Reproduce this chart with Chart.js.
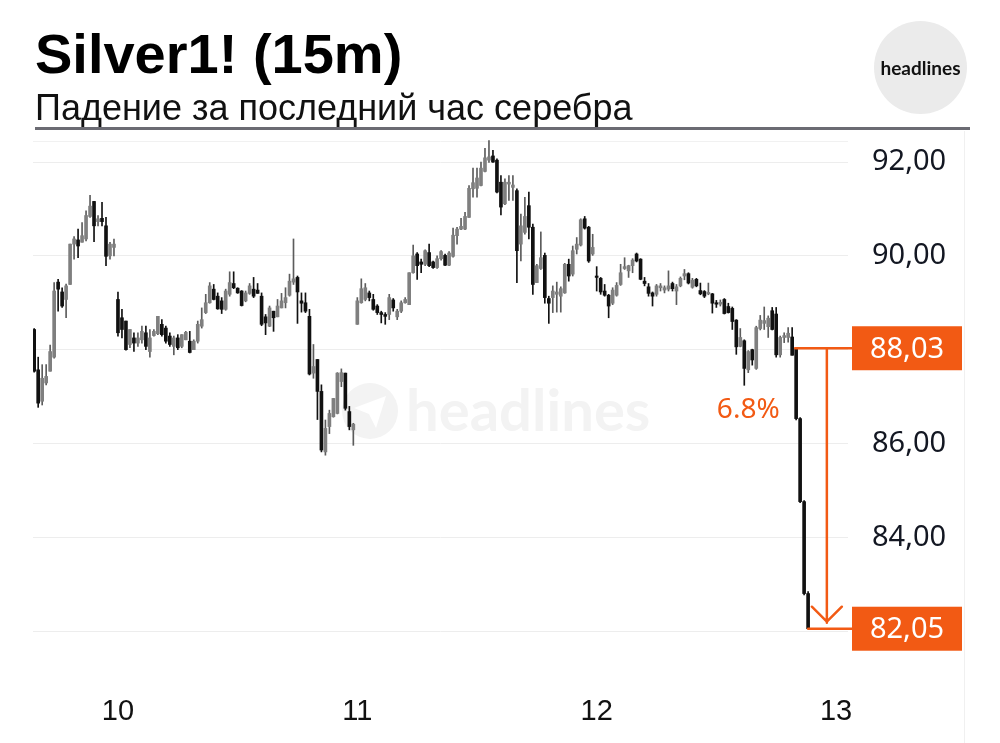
<!DOCTYPE html>
<html>
<head>
<meta charset="utf-8">
<script src="https://cdn.jsdelivr.net/npm/chart.js@4.4.1/dist/chart.umd.min.js"></script>
<style>
  html, body { margin: 0; padding: 0; background: #fff; }
  #wrap { position: relative; width: 1000px; height: 743px; overflow: hidden; }
  #chart { position: absolute; left: 0; top: 0; }
  #title { position: absolute; left: 35px; top: 26px; font: bold 56px/56px 'Liberation Sans', Arial, sans-serif; color: #000; white-space: nowrap; }
  #subtitle { position: absolute; left: 35px; top: 90px; font: 36px/36px 'Liberation Sans', Arial, sans-serif; color: #111; white-space: nowrap; }
  #rule { position: absolute; left: 35px; top: 127px; width: 935px; height: 3px; background: #6b6b73; }
  #logo { position: absolute; left: 874px; top: 21px; width: 93px; height: 93px; border-radius: 50%; background: #ebebeb;
          font: bold 19px/93px Lato, 'Open Sans', sans-serif; color: #111; text-align: center; }
</style>
</head>
<body>
<div id="wrap">
  <canvas id="chart" width="1000" height="743"></canvas>
  <div id="title">Silver1! (15m)</div>
  <div id="subtitle">Падение за последний час серебра</div>
  <div id="rule"></div>
  <div id="logo">headlines</div>
</div>
<script>
// ---------------- DATA (15m candles, index = candle number) ----------------
const opens = [
  88.43,87.57,86.90,87.29,87.54,87.84,89.44,89.23,89.07,89.39,
  90.25,90.34,90.29,90.36,90.84,91.16,90.73,90.80,90.64,90.00,
  90.18,89.07,88.68,88.61,88.11,88.25,88.14,88.21,88.36,87.96,
  88.30,88.34,88.54,88.46,88.29,88.07,88.25,88.07,88.21,88.18,
  88.00,88.18,88.50,88.79,89.00,89.29,89.14,89.04,88.86,89.18,
  89.41,89.31,89.25,89.04,89.20,89.29,89.27,89.14,88.70,88.50,
  88.82,88.70,88.89,89.00,89.16,89.44,89.54,89.04,89.00,88.71,
  87.50,87.79,87.11,85.82,86.36,86.57,86.64,87.32,87.50,86.68,
  86.29,88.54,89.00,89.07,89.21,89.07,88.93,88.79,88.75,88.75,
  89.06,88.70,88.82,89.00,88.96,89.64,90.04,89.87,89.82,90.07,
  89.87,89.75,89.94,90.01,89.80,89.99,90.43,90.57,90.57,90.82,
  91.43,91.44,91.50,91.80,92.04,92.13,92.04,91.57,91.11,91.53,
  91.46,91.39,90.25,90.50,91.07,90.61,89.43,89.73,90.01,89.09,
  89.11,89.18,89.14,89.21,89.82,89.61,90.14,90.23,90.79,90.61,
  90.04,89.57,89.52,89.25,89.16,88.99,89.16,89.39,89.73,89.68,
  89.79,90.04,89.93,89.46,89.34,89.21,89.18,89.32,89.27,89.29,
  89.41,89.25,89.36,89.57,89.62,89.33,89.50,89.26,89.24,89.19,
  89.19,89.00,88.97,89.07,88.92,88.88,88.63,88.07,88.19,87.57,
  88.00,87.60,88.45,88.56,88.49,88.83,88.76,87.89,88.26,88.26,
  88.27,88.03,86.53,84.76,82.80
];
const highs = [
  88.45,87.84,87.68,87.68,88.10,89.43,89.50,89.32,89.40,90.25,
  90.41,90.57,90.71,90.96,91.29,91.16,90.86,91.14,90.82,90.29,
  90.36,89.23,88.86,88.61,88.43,88.36,88.36,88.50,88.50,88.43,
  88.43,88.71,88.64,88.50,88.36,88.29,88.32,88.32,88.39,88.39,
  88.21,88.61,88.89,89.18,89.43,89.39,89.21,89.11,89.29,89.66,
  89.66,89.32,89.26,89.25,89.41,89.54,89.41,89.21,88.75,88.93,
  88.82,89.07,89.20,89.32,89.61,90.36,89.57,89.21,89.21,88.86,
  88.11,87.79,87.25,86.50,86.71,86.96,87.51,87.59,87.50,86.79,
  86.43,89.11,89.51,89.41,89.25,89.18,88.96,88.82,88.79,89.18,
  89.09,88.86,89.04,89.11,89.64,90.23,90.07,89.93,90.13,90.25,
  89.89,90.00,90.11,90.04,90.09,90.59,90.61,90.80,90.93,91.50,
  91.87,91.87,92.00,92.29,92.46,92.25,92.07,91.71,91.64,91.71,
  91.71,91.43,90.89,91.25,91.36,90.68,89.82,90.51,90.06,89.14,
  89.36,89.44,89.34,89.84,89.93,90.21,90.39,90.79,90.84,90.63,
  90.46,89.77,89.54,89.39,89.18,89.32,89.43,89.82,89.96,89.80,
  89.94,90.06,89.94,89.54,89.41,89.23,89.39,89.41,89.36,89.68,
  89.44,89.39,89.55,89.71,89.64,89.52,89.52,89.42,89.26,89.42,
  89.20,89.05,89.06,89.09,88.99,88.91,88.64,88.45,88.21,87.98,
  88.01,88.50,88.73,88.91,88.72,88.90,88.90,88.29,88.36,88.47,
  88.47,88.03,86.55,84.78,82.84
];
const lows = [
  87.52,86.77,86.82,87.25,87.54,87.82,88.82,88.90,88.68,89.39,
  89.93,89.96,90.29,90.32,90.82,90.30,90.64,90.64,89.79,89.93,
  90.00,88.29,88.25,87.99,88.04,87.96,88.07,88.14,88.00,87.84,
  88.29,88.32,88.29,88.14,88.07,87.89,88.00,88.04,88.21,87.93,
  88.00,88.14,88.46,88.77,88.99,89.06,88.86,88.77,88.84,89.14,
  89.30,89.20,88.93,89.02,89.18,89.11,89.20,88.51,88.32,88.49,
  88.39,88.70,88.89,88.89,89.14,89.39,88.56,88.80,88.79,87.46,
  87.39,86.51,85.82,85.75,86.21,86.56,86.63,87.21,86.71,86.29,
  85.96,88.54,88.99,89.04,89.04,88.84,88.75,88.57,88.54,88.64,
  88.82,88.64,88.79,88.99,88.96,89.63,89.50,89.64,89.79,89.77,
  89.73,89.73,89.91,89.79,89.79,89.97,90.25,90.56,90.56,90.82,
  91.25,91.25,91.49,91.79,91.99,91.99,91.34,90.87,91.09,91.18,
  91.18,89.43,89.89,90.46,90.36,89.18,89.43,89.71,88.99,88.56,
  88.79,88.80,88.80,89.20,89.46,89.57,90.04,90.21,90.57,89.86,
  90.01,89.25,89.18,89.14,88.68,88.96,89.14,89.37,89.71,89.54,
  89.64,89.87,89.49,89.36,89.14,88.93,89.14,89.25,89.21,89.25,
  89.25,88.96,89.34,89.49,89.40,89.31,89.34,89.17,89.11,89.17,
  88.78,88.90,88.93,88.76,88.78,88.43,87.90,88.06,87.24,87.51,
  87.67,87.58,88.42,88.43,88.26,88.42,87.84,87.84,88.15,88.16,
  87.88,86.50,84.74,82.77,82.05
];
const closes = [
  87.54,86.86,87.39,87.43,87.96,89.25,89.29,88.93,89.36,90.25,
  90.36,90.21,90.43,90.86,91.06,90.64,90.79,90.73,89.99,90.25,
  90.25,88.36,88.43,88.00,88.43,88.14,88.25,88.39,88.07,88.25,
  88.39,88.71,88.32,88.18,88.11,88.25,88.04,88.32,88.37,87.94,
  88.18,88.54,88.64,89.00,89.36,89.07,88.87,88.86,89.25,89.43,
  89.32,89.21,88.94,89.21,89.36,89.14,89.20,88.54,88.57,88.89,
  88.68,88.93,89.04,89.11,89.46,89.51,89.23,88.99,88.82,87.48,
  87.64,87.11,85.86,86.32,86.64,86.96,87.50,87.51,86.75,86.36,
  86.41,89.04,89.30,89.32,89.11,88.86,88.79,88.75,88.71,89.11,
  88.89,88.82,89.00,89.07,89.64,90.00,89.79,89.82,90.11,89.79,
  89.75,89.94,90.09,89.80,90.06,90.44,90.57,90.63,90.84,91.44,
  91.56,91.66,91.87,92.09,92.11,92.00,91.36,91.04,91.57,91.57,
  91.51,90.11,90.64,90.84,90.61,89.39,89.79,89.96,89.11,88.99,
  89.25,89.23,89.30,89.82,89.57,90.11,90.25,90.77,90.59,89.89,
  90.18,89.54,89.23,89.16,88.93,89.27,89.37,89.64,89.77,89.79,
  89.91,89.89,89.50,89.41,89.20,89.14,89.36,89.36,89.32,89.36,
  89.30,89.34,89.52,89.62,89.42,89.48,89.36,89.19,89.14,89.22,
  88.99,88.97,89.01,88.77,88.79,88.60,88.06,88.26,87.60,87.96,
  87.78,88.47,88.63,88.62,88.67,88.43,87.89,88.26,88.30,88.35,
  87.88,86.53,84.76,82.80,82.05
];

// day labels on the time axis and the candle where each day starts
const dayLabels = ['10', '11', '12', '13'];
const dayIndex = [21, 81, 141, 201];

// price axis
const priceTicks = [82, 84, 86, 88, 90, 92];
const hiddenTicks = [82, 88]; // covered by the orange price tags

// the drop annotation
const dropFrom = 88.03;
const dropTo = 82.05;
const dropText = '6.8%';
const dropStartCandle = 191;
const dropEndCandle = 194;

// ---------------- STYLE ----------------
const ORANGE = '#f25a14';
const UP_BODY = '#7f7f7f';
const UP_WICK = '#5c5c5c';
const DOWN = '#111111';

const idx = opens.map((_, i) => i);
const isUp = idx.map(i => closes[i] >= opens[i]);

function fmt(v) {
  return v.toFixed(2).replace('.', ',');
}

const decor = {
  id: 'decor',
  beforeDatasetsDraw(chart) {
    const ctx = chart.ctx;
    const area = chart.chartArea;
    ctx.save();
    // faint top border of the pane
    ctx.strokeStyle = '#f1f1f1';
    ctx.lineWidth = 1;
    ctx.beginPath();
    ctx.moveTo(area.left, area.top + 1.5);
    ctx.lineTo(area.right, area.top + 1.5);
    ctx.stroke();
    // watermark
    ctx.fillStyle = '#f3f3f3';
    ctx.beginPath();
    ctx.arc(370, 411, 28, 0, Math.PI * 2);
    ctx.fill();
    ctx.fillStyle = '#ffffff';
    ctx.beginPath();
    ctx.moveTo(354, 408);
    ctx.lineTo(386, 396);
    ctx.lineTo(376, 428);
    ctx.lineTo(369, 414);
    ctx.closePath();
    ctx.fill();
    ctx.fillStyle = '#f3f3f3';
    ctx.font = 'bold 58px Lato, "Open Sans", sans-serif';
    ctx.textBaseline = 'alphabetic';
    ctx.textAlign = 'left';
    ctx.fillText('headlines', 406, 431);
    ctx.restore();
  },
  afterDraw(chart) {
    const ctx = chart.ctx;
    const xs = chart.scales.x;
    const ys = chart.scales.y;
    const yTop = ys.getPixelForValue(dropFrom);
    const yBot = ys.getPixelForValue(dropTo);
    const boxL = 852, boxR = 962, boxH = 44;
    const arrowX = xs.getPixelForValue(198.7);

    ctx.save();
    // right border of the price scale
    ctx.strokeStyle = '#f0f0f0';
    ctx.lineWidth = 1;
    ctx.beginPath();
    ctx.moveTo(964.5, 131);
    ctx.lineTo(964.5, 743);
    ctx.stroke();

    ctx.strokeStyle = ORANGE;
    ctx.lineWidth = 2.5;
    ctx.lineCap = 'round';
    ctx.lineJoin = 'round';
    ctx.beginPath();
    ctx.moveTo(xs.getPixelForValue(dropStartCandle) - 1, yTop);
    ctx.lineTo(boxL, yTop);
    ctx.moveTo(xs.getPixelForValue(dropEndCandle), yBot);
    ctx.lineTo(boxL, yBot);
    ctx.moveTo(arrowX, yTop);
    ctx.lineTo(arrowX, yBot - 6);
    ctx.moveTo(arrowX - 15, yBot - 22);
    ctx.lineTo(arrowX, yBot - 7);
    ctx.lineTo(arrowX + 15, yBot - 22);
    ctx.stroke();

    // price tags
    ctx.font = '29px "Noto Sans", "Open Sans", sans-serif';
    ctx.textAlign = 'center';
    ctx.textBaseline = 'middle';
    [[dropFrom, yTop], [dropTo, yBot]].forEach(([v, y]) => {
      ctx.fillStyle = ORANGE;
      ctx.fillRect(boxL, y - boxH / 2, boxR - boxL, boxH);
      ctx.fillStyle = '#ffffff';
      ctx.fillText(fmt(v), (boxL + boxR) / 2, y + 1);
    });

    // drop size
    ctx.fillStyle = ORANGE;
    ctx.font = '28px "Noto Sans", "Open Sans", sans-serif';
    ctx.fillText(dropText, xs.getPixelForValue(179), ys.getPixelForValue(86.72));
    ctx.restore();
  }
};

new Chart(document.getElementById('chart'), {
  type: 'bar',
  data: {
    datasets: [
      {
        label: 'wick',
        data: idx.map(i => ({ x: i, y: [lows[i], highs[i]] })),
        backgroundColor: idx.map(i => isUp[i] ? UP_WICK : DOWN),
        barThickness: 1,
        minBarLength: 1,
        grouped: false,
        order: 2
      },
      {
        label: 'body',
        data: idx.map(i => ({ x: i, y: [opens[i], closes[i]] })),
        backgroundColor: idx.map(i => isUp[i] ? UP_BODY : DOWN),
        barThickness: 3,
        minBarLength: 1,
        grouped: false,
        order: 1
      }
    ]
  },
  options: {
    responsive: false,
    animation: false,
    devicePixelRatio: 1,
    layout: { padding: { left: 33, top: 140, right: 0, bottom: 0 } },
    plugins: { legend: { display: false }, tooltip: { enabled: false } },
    scales: {
      x: {
        type: 'linear',
        min: -0.3,
        max: 204,
        offset: false,
        grid: { display: false, drawTicks: false },
        border: { display: false },
        afterBuildTicks: s => { s.ticks = dayIndex.map(v => ({ value: v })); },
        afterFit: s => { s.height = 73; },
        ticks: {
          autoSkip: false,
          maxRotation: 0,
          padding: 25,
          color: '#111',
          font: { family: "'Liberation Sans', Arial, sans-serif", size: 29 },
          callback: v => dayLabels[dayIndex.indexOf(v)]
        }
      },
      y: {
        position: 'right',
        min: 81.17,
        max: 92.47,
        grid: { color: '#ededed', drawTicks: false },
        border: { display: false },
        afterBuildTicks: s => { s.ticks = priceTicks.map(v => ({ value: v })); },
        afterFit: s => { s.width = 152; },
        ticks: {
          padding: 24,
          color: '#131722',
          font: { family: "'Noto Sans', 'Open Sans', sans-serif", size: 29 },
          callback: v => hiddenTicks.includes(v) ? '' : fmt(v)
        }
      }
    }
  },
  plugins: [decor]
});
</script>
</body>
</html>
